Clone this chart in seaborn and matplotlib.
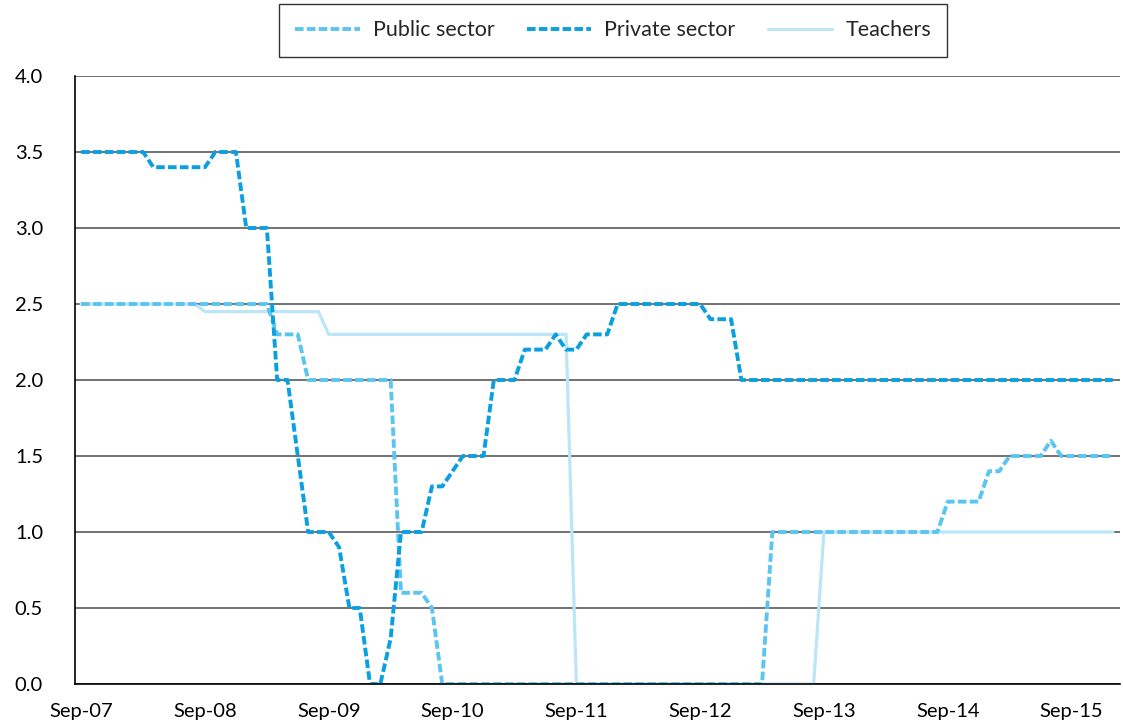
import matplotlib
matplotlib.use("Agg")
from matplotlib import pyplot as plt
import seaborn as sns
import pandas as pd

# monthly values, Sep-07 (month 0) to Jan-16 (month 100)
private_sector = [
    3.5, 3.5, 3.5, 3.5, 3.5, 3.5, 3.5, 3.4, 3.4, 3.4, 3.4, 3.4,
    3.4, 3.5, 3.5, 3.5, 3.0, 3.0, 3.0, 2.0, 2.0, 1.5, 1.0, 1.0,
    1.0, 0.9, 0.5, 0.5, 0.0, 0.0, 0.3, 1.0, 1.0, 1.0, 1.3, 1.3,
    1.4, 1.5, 1.5, 1.5, 2.0, 2.0, 2.0, 2.2, 2.2, 2.2, 2.3, 2.2,
    2.2, 2.3, 2.3, 2.3, 2.5, 2.5, 2.5, 2.5, 2.5, 2.5, 2.5, 2.5,
    2.5, 2.4, 2.4, 2.4, 2.0, 2.0, 2.0, 2.0, 2.0, 2.0, 2.0, 2.0,
    2.0, 2.0, 2.0, 2.0, 2.0, 2.0, 2.0, 2.0, 2.0, 2.0, 2.0, 2.0,
    2.0, 2.0, 2.0, 2.0, 2.0, 2.0, 2.0, 2.0, 2.0, 2.0, 2.0, 2.0,
    2.0, 2.0, 2.0, 2.0, 2.0,
]
public_sector = [
    2.5, 2.5, 2.5, 2.5, 2.5, 2.5, 2.5, 2.5, 2.5, 2.5, 2.5, 2.5,
    2.5, 2.5, 2.5, 2.5, 2.5, 2.5, 2.5, 2.3, 2.3, 2.3, 2.0, 2.0,
    2.0, 2.0, 2.0, 2.0, 2.0, 2.0, 2.0, 0.6, 0.6, 0.6, 0.5, 0.0,
    0.0, 0.0, 0.0, 0.0, 0.0, 0.0, 0.0, 0.0, 0.0, 0.0, 0.0, 0.0,
    0.0, 0.0, 0.0, 0.0, 0.0, 0.0, 0.0, 0.0, 0.0, 0.0, 0.0, 0.0,
    0.0, 0.0, 0.0, 0.0, 0.0, 0.0, 0.0, 1.0, 1.0, 1.0, 1.0, 1.0,
    1.0, 1.0, 1.0, 1.0, 1.0, 1.0, 1.0, 1.0, 1.0, 1.0, 1.0, 1.0,
    1.2, 1.2, 1.2, 1.2, 1.4, 1.4, 1.5, 1.5, 1.5, 1.5, 1.6, 1.5,
    1.5, 1.5, 1.5, 1.5, 1.5,
]
teachers = [
    2.5, 2.5, 2.5, 2.5, 2.5, 2.5, 2.5, 2.5, 2.5, 2.5, 2.5, 2.5,
    2.45, 2.45, 2.45, 2.45, 2.45, 2.45, 2.45, 2.45, 2.45, 2.45, 2.45, 2.45,
    2.3, 2.3, 2.3, 2.3, 2.3, 2.3, 2.3, 2.3, 2.3, 2.3, 2.3, 2.3,
    2.3, 2.3, 2.3, 2.3, 2.3, 2.3, 2.3, 2.3, 2.3, 2.3, 2.3, 2.3,
    0.0, 0.0, 0.0, 0.0, 0.0, 0.0, 0.0, 0.0, 0.0, 0.0, 0.0, 0.0,
    0.0, 0.0, 0.0, 0.0, 0.0, 0.0, 0.0, 0.0, 0.0, 0.0, 0.0, 0.0,
    1.0, 1.0, 1.0, 1.0, 1.0, 1.0, 1.0, 1.0, 1.0, 1.0, 1.0, 1.0,
    1.0, 1.0, 1.0, 1.0, 1.0, 1.0, 1.0, 1.0, 1.0, 1.0, 1.0, 1.0,
    1.0, 1.0, 1.0, 1.0, 1.0,
]
tick_labels = ['Sep-07', 'Sep-08', 'Sep-09', 'Sep-10', 'Sep-11',
               'Sep-12', 'Sep-13', 'Sep-14', 'Sep-15']
y_ticks = [0.0, 0.5, 1.0, 1.5, 2.0, 2.5, 3.0, 3.5, 4.0]

series = {'Teachers': teachers, 'Public sector': public_sector,
          'Private sector': private_sector}
colors = {'Public sector': '#5bc5f2', 'Private sector': '#0a9fe0',
          'Teachers': '#bde5f8'}

sns.set_style("white")
plt.rcParams['font.family'] = ['Lato', 'DejaVu Sans']

fig = plt.figure(figsize=(11.23, 7.27), dpi=100)
ax = fig.add_axes([75 / 1123, 1 - 684 / 727, 1045 / 1123, 608 / 727])

for y in y_ticks:
    ax.axhline(y, color='#5a5a5a', lw=1.2, zorder=0)

handles = {}
for name in ['Teachers', 'Public sector', 'Private sector']:
    df = pd.DataFrame({'month': range(len(series[name])), 'value': series[name]})
    sns.lineplot(data=df, x='month', y='value', ax=ax, color=colors[name],
                 lw=2.8 if name != 'Teachers' else 2.3)
    line = ax.get_lines()[-1]
    if name != 'Teachers':
        line.set_dashes((2.2, 0.85))
        line.set_dash_capstyle('butt')
    handles[name] = line

ax.set_xlim(-0.6, 100.7)
ax.set_ylim(0, 4)
ax.set_xticks([12 * i for i in range(len(tick_labels))])
ax.set_xticklabels(tick_labels)
ax.set_yticks(y_ticks)
ax.set_yticklabels([f'{v:.1f}' for v in y_ticks])
ax.set_xlabel('')
ax.set_ylabel('')
ax.tick_params(axis='both', labelsize=14.5, colors='black', width=1.2)
ax.tick_params(axis='y', length=19, pad=4)
ax.tick_params(axis='x', length=11, pad=3)
for s in ['top', 'right']:
    ax.spines[s].set_visible(False)
for s in ['left', 'bottom']:
    ax.spines[s].set_color('black')
    ax.spines[s].set_linewidth(1.2)

order = ['Public sector', 'Private sector', 'Teachers']
leg = fig.legend([handles[n] for n in order], order, loc='center',
                 bbox_to_anchor=(613 / 1123, 1 - 30.5 / 727), ncol=3,
                 fontsize=15.5, frameon=True, fancybox=False, handlelength=3.0,
                 handletextpad=0.6, columnspacing=1.5, borderpad=0.75)
leg.get_frame().set_edgecolor('black')
leg.get_frame().set_linewidth(1.0)

fig.savefig('out.png', dpi=100)
